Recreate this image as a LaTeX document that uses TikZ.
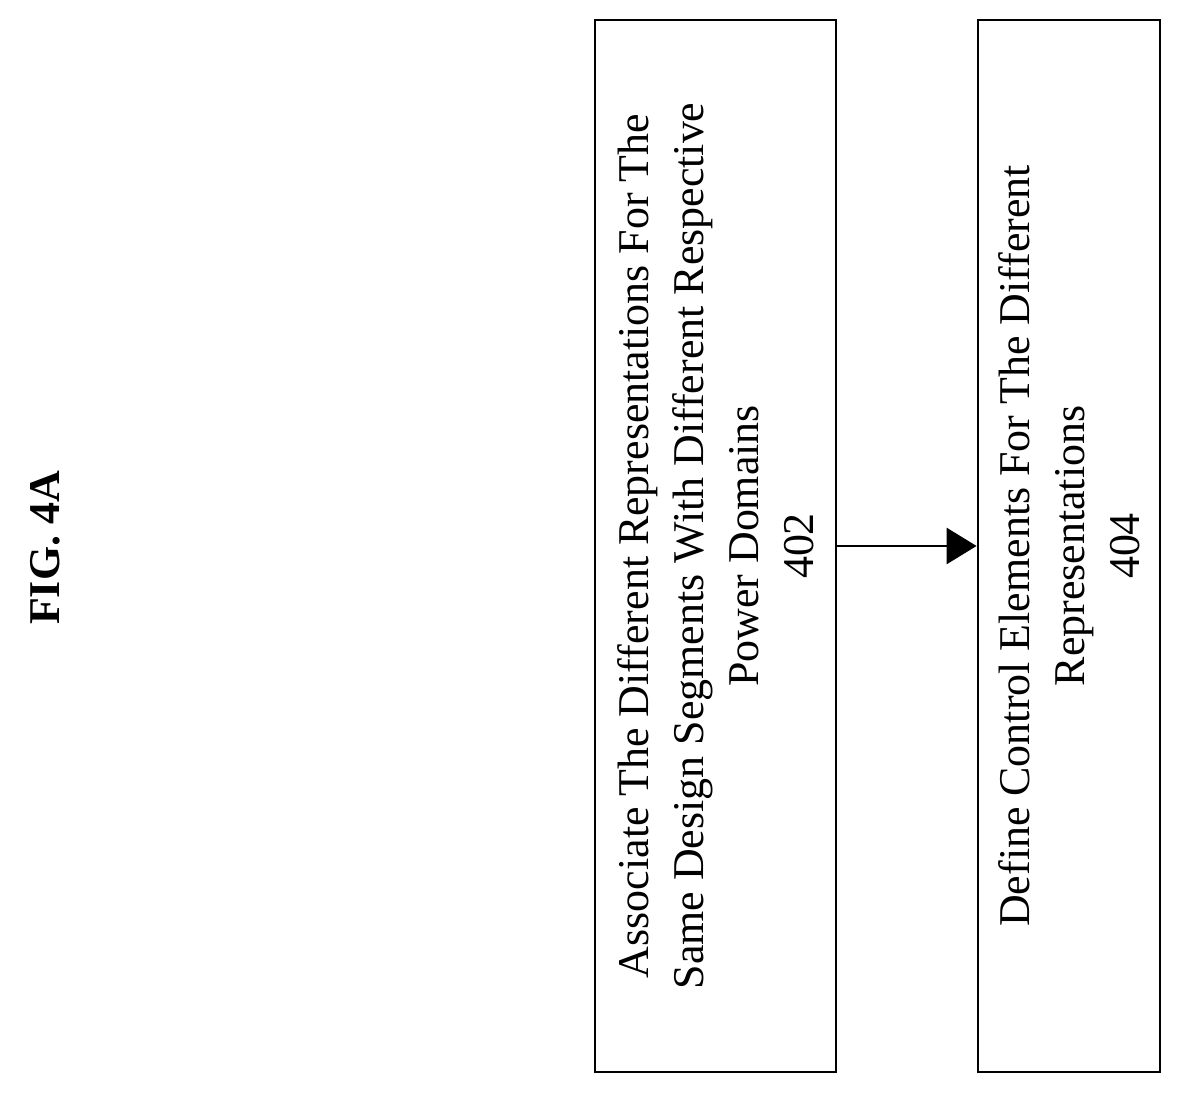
\documentclass[tikz,border=0pt]{standalone}
\usepackage{fontspec}
\setmainfont{Liberation Serif}
\usetikzlibrary{positioning,arrows.meta}

\begin{document}
\begin{tikzpicture}[
            stepnode/.style={rectangle, draw=black, thick, rotate=90, align=center, minimum width=10.52cm, font=\fontsize{12.5}{15.6}\selectfont},
        ]
        \useasboundingbox (0,0) rectangle (11.8,10.94);
        \node[font=\bfseries\fontsize{12.5}{15}\selectfont, rotate=90] (fig) at (0.45,5.46) {FIG. 4A};
        \node[stepnode, minimum height=2.41cm] (assoc) at (7.155,5.48) {Associate The Different Representations For The\\Same Design Segments With Different Respective\\Power Domains\\402};
        \node[stepnode, minimum height=1.82cm] (define) at (10.69,5.48) {Define Control Elements For The Different\\Representations\\404};
        \draw[-{Triangle[length=0.3cm,width=0.36cm]}, thick] (assoc.south) -- (define.north);
    \end{tikzpicture}
\end{document}
